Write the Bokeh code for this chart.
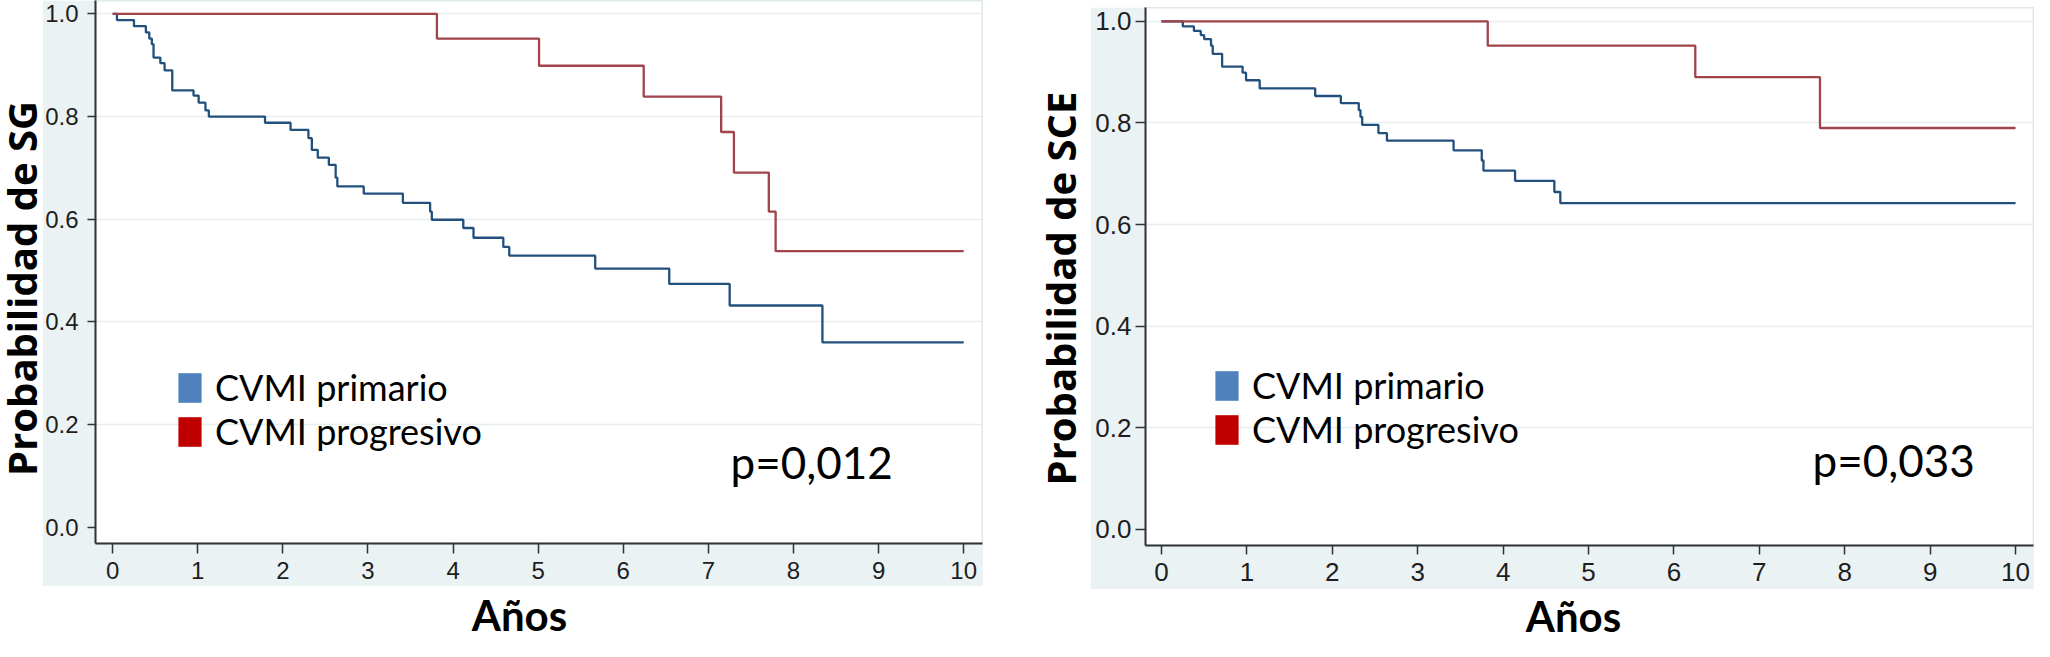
from bokeh.plotting import figure
from bokeh.models import (Range1d, FixedTicker, PrintfTickFormatter, Label, Legend,
                          LegendItem, ColumnDataSource, Spacer)
from bokeh.layouts import row, column
from bokeh.embed import file_html
from bokeh.resources import INLINE

NAN = float("nan")

# ---------------- data ----------------
years_ticks = [0, 1, 2, 3, 4, 5, 6, 7, 8, 9, 10]
prob_ticks = [0.0, 0.2, 0.4, 0.6, 0.8, 1.0]
grid_ticks = [0.2, 0.4, 0.6, 0.8, 1.0]
series_names = ["CVMI primario", "CVMI progresivo"]

# Supervivencia global (SG)
sg_primario_t = [0, 0.05, 0.25, 0.39, 0.43, 0.46, 0.48, 0.56, 0.61, 0.70, 0.95, 1.01, 1.09, 1.13,
                 1.79, 2.09, 2.30, 2.34, 2.41, 2.54, 2.62, 2.64, 2.95, 3.41, 3.73, 3.75, 4.12,
                 4.24, 4.59, 4.66, 5.67, 6.54, 7.25, 8.34, 10.0]
sg_primario_s = [1.0, 0.988, 0.976, 0.964, 0.952, 0.941, 0.915, 0.904, 0.890, 0.851, 0.841, 0.827,
                 0.812, 0.800, 0.788, 0.774, 0.758, 0.735, 0.720, 0.706, 0.681, 0.664, 0.650,
                 0.632, 0.615, 0.599, 0.583, 0.564, 0.546, 0.529, 0.504, 0.474, 0.432, 0.360, 0.360]
sg_progresivo_t = [0, 3.81, 5.01, 6.24, 7.15, 7.30, 7.71, 7.79, 10.0]
sg_progresivo_s = [1.0, 0.952, 0.899, 0.839, 0.770, 0.691, 0.615, 0.538, 0.538]

# Supervivencia cancer-especifica (SCE)
sce_primario_t = [0, 0.25, 0.38, 0.46, 0.50, 0.58, 0.60, 0.71, 0.95, 0.99, 1.15, 1.80, 2.10,
                  2.31, 2.33, 2.35, 2.54, 2.64, 3.42, 3.75, 3.77, 4.14, 4.60, 4.67, 10.0]
sce_primario_s = [1.0, 0.990, 0.981, 0.973, 0.965, 0.952, 0.936, 0.911, 0.899, 0.884, 0.868,
                  0.853, 0.839, 0.825, 0.812, 0.796, 0.780, 0.765, 0.746, 0.726, 0.706, 0.686,
                  0.664, 0.642, 0.642]
sce_progresivo_t = [0, 3.82, 6.25, 7.71, 10.0]
sce_progresivo_s = [1.0, 0.952, 0.890, 0.790, 0.790]

p_values = ["p=0,012", "p=0,033"]
y_titles = ["Probabilidad de SG", "Probabilidad de SCE"]
x_title = "Años"

# ---------------- style ----------------
BAND = "#eaf2f3"
GRID = "#e6eef0"
BLUE_LINE = "#22507d"
RED_LINE = "#a0434a"
BLUE_SW = "#4f81bd"
RED_SW = "#c00000"
AX = "#333333"


def title_fig(w, h):
    f = figure(width=w, height=h, x_axis_type=None, y_axis_type=None, toolbar_location=None,
               output_backend="svg", title=None, min_border=0,
               x_range=Range1d(0, 1), y_range=Range1d(0, 1))
    f.outline_line_color = None
    f.background_fill_color = "white"
    f.border_fill_color = "white"
    return f


def title_label(x, y, text, angle=0, font="Open Sans", size="40px"):
    return Label(x=x, y=y, x_units="screen", y_units="screen", text=text,
                 angle=angle, angle_units="deg", text_align="center", text_baseline="middle",
                 text_font=font, text_font_style="bold", text_font_size=size,
                 text_color="black")


def km_fig(w, h, bl, bb, xr, yr, tick_font, ytick_len, xtick_len, ystand, xstand,
           blue_t, blue_s, red_t, red_s, leg_loc, ptext, p_loc):
    p = figure(width=w, height=h, toolbar_location=None, output_backend="svg", title=None,
               x_range=Range1d(*xr), y_range=Range1d(*yr),
               min_border_left=bl, min_border_bottom=bb, min_border_top=0, min_border_right=1)
    p.border_fill_color = BAND
    p.background_fill_color = "white"
    p.outline_line_color = "#e0e9eb"
    p.outline_line_width = 2

    p.xaxis.ticker = FixedTicker(ticks=years_ticks)
    p.yaxis.ticker = FixedTicker(ticks=prob_ticks)
    p.yaxis.formatter = PrintfTickFormatter(format="%.1f")
    for ax in (p.xaxis, p.yaxis):
        ax.axis_line_color = AX
        ax.axis_line_width = 2
        ax.major_tick_line_color = AX
        ax.major_tick_line_width = 1.5
        ax.minor_tick_line_color = None
        ax.major_tick_in = 0
        ax.major_label_text_font = "Liberation Sans"
        ax.major_label_text_font_size = tick_font
        ax.major_label_text_color = "#1e1e1e"
    p.yaxis.major_tick_out = ytick_len
    p.xaxis.major_tick_out = xtick_len
    p.yaxis.major_label_standoff = ystand
    p.xaxis.major_label_standoff = xstand

    p.xgrid.visible = False
    p.ygrid.ticker = FixedTicker(ticks=grid_ticks)
    p.ygrid.grid_line_color = GRID
    p.ygrid.grid_line_width = 1.5

    src_b = ColumnDataSource(dict(t=blue_t, s=blue_s))
    src_r = ColumnDataSource(dict(t=red_t, s=red_s))
    p.step(x="t", y="s", source=src_b, mode="after", line_color=BLUE_LINE, line_width=2.3)
    p.step(x="t", y="s", source=src_r, mode="after", line_color=RED_LINE, line_width=2.3)

    sw_b = p.quad(left=[NAN], right=[NAN], top=[NAN], bottom=[NAN],
                  fill_color=BLUE_SW, line_color=None)
    sw_r = p.quad(left=[NAN], right=[NAN], top=[NAN], bottom=[NAN],
                  fill_color=RED_SW, line_color=None)
    legend = Legend(items=[LegendItem(label=series_names[0], renderers=[sw_b], index=0),
                           LegendItem(label=series_names[1], renderers=[sw_r], index=0)],
                    location=leg_loc, orientation="vertical",
                    glyph_width=29, glyph_height=37, label_standoff=11, spacing=-4,
                    padding=0, margin=0, border_line_color=None, background_fill_alpha=0,
                    label_text_font="Lato", label_text_font_size="36px",
                    label_text_color="black")
    p.add_layout(legend)

    p.add_layout(Label(x=p_loc[0], y=p_loc[1], x_units="screen", y_units="screen", text=ptext,
                       text_font="Lato", text_font_size="44px", text_color="black",
                       text_align="left", text_baseline="alphabetic"))
    return p


TOTAL_H = 641

# ---------------- left chart ----------------
m1_h = 586
yt1 = title_fig(42, m1_h)
yt1.add_layout(title_label(21, 255, y_titles[0], angle=90))
m1 = km_fig(941, m1_h, 52, 43, (-0.202, 10.221), (-0.0316, 1.0261), "24px", 8, 10, 9, 8,
            sg_primario_t, sg_primario_s, sg_progresivo_t, sg_progresivo_s,
            (80, 90), p_values[0], (635, 82))
xt1 = title_fig(983, TOTAL_H - m1_h)
xt1.add_layout(title_label(519, 27, x_title, font="Lato", size="42px"))
left_block = column(row(yt1, m1), xt1)

# ---------------- right chart ----------------
top_gap = 7
m2_h = 582
yt2 = title_fig(107, m2_h)
yt2.add_layout(title_label(77, 257, y_titles[1], angle=90))
m2 = km_fig(944, m2_h, 55, 44, (-0.187, 10.21), (-0.0318, 1.0272), "26px", 10, 9, 4, 8,
            sce_primario_t, sce_primario_s, sce_progresivo_t, sce_progresivo_s,
            (67, 94), p_values[1], (667, 86))
xt2 = title_fig(1051, TOTAL_H - top_gap - m2_h)
xt2.add_layout(title_label(590, 26, x_title, font="Lato", size="42px"))
right_block = column(Spacer(width=1051, height=top_gap), row(yt2, m2), xt2)

page = row(left_block, right_block)

open("out.html", "w").write(file_html(page, INLINE))
